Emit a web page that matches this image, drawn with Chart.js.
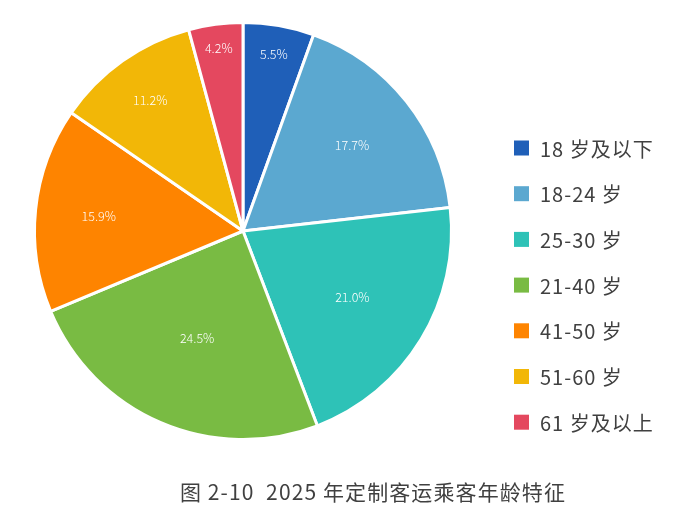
<!DOCTYPE html>
<html>
<head>
<meta charset="utf-8">
<script src="https://cdn.jsdelivr.net/npm/chart.js@4.4.1/dist/chart.umd.min.js"></script>
<style>
  html, body { margin: 0; padding: 0; background: #fff; }
  #wrap { width: 677px; height: 523px; }
</style>
</head>
<body>
<div id="wrap"><canvas id="pie" width="677" height="523"></canvas></div>
<script>
// 年龄段
const ageGroups = ['18 岁及以下', '18-24 岁', '25-30 岁', '21-40 岁', '41-50 岁', '51-60 岁', '61 岁及以上'];
// 占比 (%)
const shares = [5.5, 17.7, 21.0, 24.5, 15.9, 11.2, 4.2];
const sliceColors = ['#1f5fb8', '#5ba8d0', '#2ec2b7', '#79bb43', '#fe8400', '#f2b707', '#e4485f'];
const chartTitle = '图 2-10  2025 年定制客运乘客年龄特征';

const FONT = '"Noto Sans CJK SC", "Noto Sans", sans-serif';

// 百分比标签
const sliceLabels = {
  id: 'sliceLabels',
  afterDatasetsDraw(chart) {
    const { ctx } = chart;
    const meta = chart.getDatasetMeta(0);
    ctx.save();
    ctx.fillStyle = '#ffffff';
    ctx.font = '300 12.5px ' + FONT;
    ctx.textAlign = 'center';
    ctx.textBaseline = 'middle';
    meta.data.forEach((arc, i) => {
      const v = shares[i];
      const frac = 0.95 - 0.016 * v;
      const mid = (arc.startAngle + arc.endAngle) / 2;
      const r = arc.outerRadius * frac;
      ctx.fillText(v.toFixed(1) + '%', arc.x + Math.cos(mid) * r, arc.y + Math.sin(mid) * r);
    });
    ctx.restore();
  }
};

// 右侧图例 + 底部标题
const sideLegend = {
  id: 'sideLegend',
  afterDraw(chart) {
    const { ctx } = chart;
    ctx.save();
    ctx.font = '20px ' + FONT;
    ctx.letterSpacing = '1px';
    ctx.textBaseline = 'middle';
    ctx.textAlign = 'left';
    ageGroups.forEach((name, i) => {
      const y = 148 + i * 45.7;
      ctx.fillStyle = sliceColors[i];
      ctx.fillRect(514, y - 7.5, 15, 15);
      ctx.fillStyle = '#404040';
      ctx.fillText(name, 540, y + 1);
    });
    ctx.font = '21px ' + FONT;
    ctx.letterSpacing = '1.1px';
    ctx.textAlign = 'center';
    ctx.fillText(chartTitle, 373, 492);
    ctx.restore();
  }
};

new Chart(document.getElementById('pie').getContext('2d'), {
  type: 'pie',
  data: {
    labels: ageGroups,
    datasets: [{
      data: shares,
      backgroundColor: sliceColors,
      borderColor: '#ffffff',
      borderWidth: 3
    }]
  },
  options: {
    responsive: false,
    animation: false,
    layout: { padding: { left: 33, top: 21, right: 224, bottom: 82 } },
    plugins: {
      legend: { display: false },
      tooltip: { enabled: false }
    }
  },
  plugins: [sliceLabels, sideLegend]
});
</script>
</body>
</html>
